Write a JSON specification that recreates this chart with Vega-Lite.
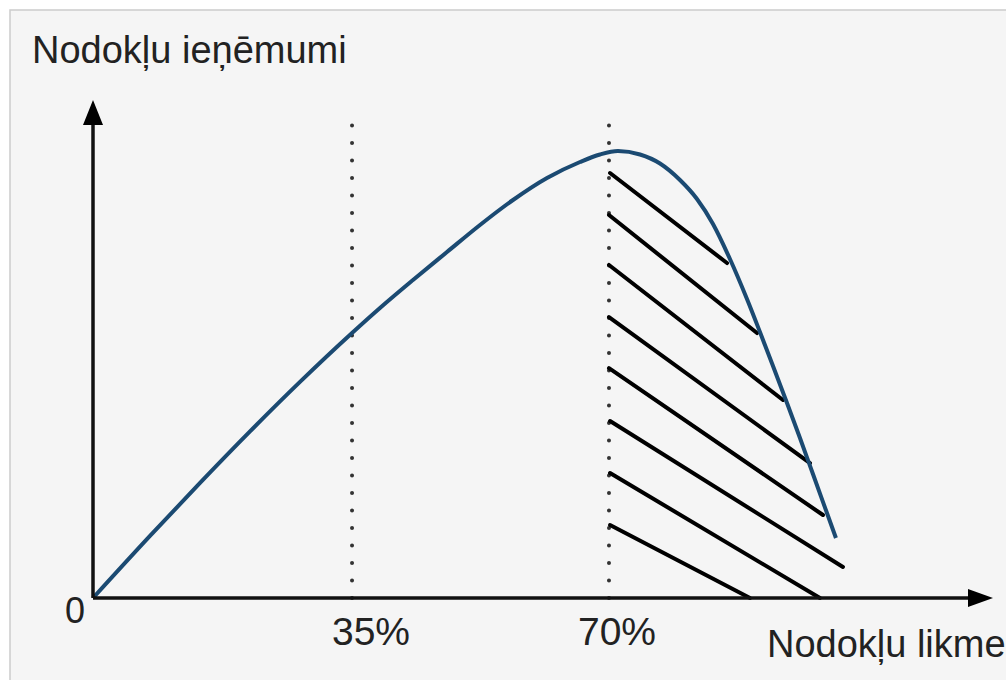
{
  "$schema": "https://vega.github.io/schema/vega-lite/v6.json",
  "width": 1006,
  "height": 680,
  "autosize": {"type": "none"},
  "padding": 0,
  "background": "#ffffff",
  "config": {"view": {"stroke": null}},
  "datasets": {
    "frame": [{"x": -11.26, "x2": 125, "y": 131.54, "y2": -20}],
    "curve": [
      {"rate": 0, "revenue": 0},
      {"rate": 7.73, "revenue": 13.89},
      {"rate": 14.52, "revenue": 25.75},
      {"rate": 21.3, "revenue": 37.27},
      {"rate": 28.08, "revenue": 48.34},
      {"rate": 35.14, "revenue": 59.28},
      {"rate": 38.93, "revenue": 64.88},
      {"rate": 43.41, "revenue": 71.14},
      {"rate": 48.02, "revenue": 77.4},
      {"rate": 52.5, "revenue": 83.45},
      {"rate": 56.98, "revenue": 89.04},
      {"rate": 61.59, "revenue": 93.96},
      {"rate": 66.07, "revenue": 97.54},
      {"rate": 68.78, "revenue": 99.22},
      {"rate": 71.22, "revenue": 100.0},
      {"rate": 74.21, "revenue": 99.22},
      {"rate": 76.92, "revenue": 97.2},
      {"rate": 79.63, "revenue": 93.51},
      {"rate": 81.94, "revenue": 89.26},
      {"rate": 84.11, "revenue": 83.67},
      {"rate": 86.41, "revenue": 75.84},
      {"rate": 88.72, "revenue": 66.89},
      {"rate": 90.48, "revenue": 59.51},
      {"rate": 92.25, "revenue": 51.9},
      {"rate": 94.15, "revenue": 43.62},
      {"rate": 95.91, "revenue": 35.79},
      {"rate": 97.67, "revenue": 27.74},
      {"rate": 99.57, "revenue": 19.02},
      {"rate": 100.79, "revenue": 13.42}
    ],
    "hatch": [
      {"x": 70.14, "y": 95.08, "x2": 86.01, "y2": 74.94},
      {"x": 70.0, "y": 85.68, "x2": 90.08, "y2": 59.28},
      {"x": 70.0, "y": 74.5, "x2": 93.6, "y2": 44.3},
      {"x": 70.0, "y": 62.86, "x2": 97.27, "y2": 30.2},
      {"x": 70.0, "y": 51.45, "x2": 99.03, "y2": 18.57},
      {"x": 70.14, "y": 39.6, "x2": 101.74, "y2": 6.94},
      {"x": 70.14, "y": 27.96, "x2": 98.62, "y2": 0},
      {"x": 70.14, "y": 16.33, "x2": 89.13, "y2": 0}
    ],
    "guides": [
      {"x": 35.14, "y": 0, "y2": 105.8},
      {"x": 70.0, "y": 0, "y2": 105.8}
    ],
    "axes": [
      {"x": 0, "y": 0, "x2": 0, "y2": 108.05},
      {"x": 0, "y": 0, "x2": 119.65, "y2": 0}
    ],
    "arrowUp": [{"x": 0, "y": 108.61}],
    "arrowRight": [{"x": 120.4, "y": 0}],
    "leftLabels": [
      {"x": -8.28, "y": 119.69, "label": "Nodokļu ieņēmumi"},
      {"x": 91.43, "y": -13.2, "label": "Nodokļu likme"}
    ],
    "tickLabels": [
      {"x": 37.71, "y": -10.51, "label": "35%"},
      {"x": 71.09, "y": -10.51, "label": "70%"}
    ],
    "zero": [{"x": -2.44, "y": -5.59, "label": "0"}]
  },
  "layer": [
    {
      "data": {"name": "frame"},
      "mark": {"type": "rect", "fill": "#f5f5f5", "stroke": "#cccccc", "strokeWidth": 1.5},
      "encoding": {
        "x": {"field": "x", "type": "quantitative", "scale": {"domain": [-12.617, 123.86], "nice": false, "zero": false}, "axis": null},
        "x2": {"field": "x2"},
        "y": {"field": "y", "type": "quantitative", "scale": {"domain": [-18.34, 133.78], "nice": false, "zero": false}, "axis": null},
        "y2": {"field": "y2"}
      }
    },
    {
      "data": {"name": "guides"},
      "mark": {"type": "rule", "stroke": "#333333", "strokeWidth": 4, "strokeCap": "round", "strokeDash": [0.1, 17.4]},
      "encoding": {
        "x": {"field": "x", "type": "quantitative", "axis": null},
        "y": {"field": "y", "type": "quantitative", "axis": null},
        "y2": {"field": "y2"}
      }
    },
    {
      "data": {"name": "hatch"},
      "mark": {"type": "rule", "stroke": "#000000", "strokeWidth": 4, "strokeCap": "round"},
      "encoding": {
        "x": {"field": "x", "type": "quantitative", "axis": null},
        "y": {"field": "y", "type": "quantitative", "axis": null},
        "x2": {"field": "x2"},
        "y2": {"field": "y2"}
      }
    },
    {
      "data": {"name": "curve"},
      "mark": {"type": "line", "stroke": "#1b4a72", "strokeWidth": 4, "interpolate": "monotone", "strokeCap": "butt"},
      "encoding": {
        "x": {"field": "rate", "type": "quantitative", "axis": null},
        "y": {"field": "revenue", "type": "quantitative", "axis": null}
      }
    },
    {
      "data": {"name": "axes"},
      "mark": {"type": "rule", "stroke": "#111111", "strokeWidth": 3.5},
      "encoding": {
        "x": {"field": "x", "type": "quantitative", "axis": null},
        "y": {"field": "y", "type": "quantitative", "axis": null},
        "x2": {"field": "x2"},
        "y2": {"field": "y2"}
      }
    },
    {
      "data": {"name": "arrowUp"},
      "mark": {"type": "point", "shape": "M0,-1L-0.8,1L0.8,1Z", "size": 625, "filled": true, "fill": "#000000", "opacity": 1, "strokeWidth": 0},
      "encoding": {
        "x": {"field": "x", "type": "quantitative", "axis": null},
        "y": {"field": "y", "type": "quantitative", "axis": null}
      }
    },
    {
      "data": {"name": "arrowRight"},
      "mark": {"type": "point", "shape": "M1,0L-1,-0.72L-1,0.72Z", "size": 625, "filled": true, "fill": "#000000", "opacity": 1, "strokeWidth": 0},
      "encoding": {
        "x": {"field": "x", "type": "quantitative", "axis": null},
        "y": {"field": "y", "type": "quantitative", "axis": null}
      }
    },
    {
      "data": {"name": "leftLabels"},
      "mark": {"type": "text", "font": "Liberation Sans", "fontSize": 38, "fill": "#222222", "baseline": "alphabetic", "align": "left"},
      "encoding": {
        "x": {"field": "x", "type": "quantitative", "axis": null},
        "y": {"field": "y", "type": "quantitative", "axis": null},
        "text": {"field": "label"}
      }
    },
    {
      "data": {"name": "tickLabels"},
      "mark": {"type": "text", "font": "Liberation Sans", "fontSize": 39, "fill": "#222222", "baseline": "alphabetic", "align": "center"},
      "encoding": {
        "x": {"field": "x", "type": "quantitative", "axis": null},
        "y": {"field": "y", "type": "quantitative", "axis": null},
        "text": {"field": "label"}
      }
    },
    {
      "data": {"name": "zero"},
      "mark": {"type": "text", "font": "Liberation Sans", "fontSize": 36, "fill": "#222222", "baseline": "alphabetic", "align": "center"},
      "encoding": {
        "x": {"field": "x", "type": "quantitative", "axis": null},
        "y": {"field": "y", "type": "quantitative", "axis": null},
        "text": {"field": "label"}
      }
    }
  ]
}
